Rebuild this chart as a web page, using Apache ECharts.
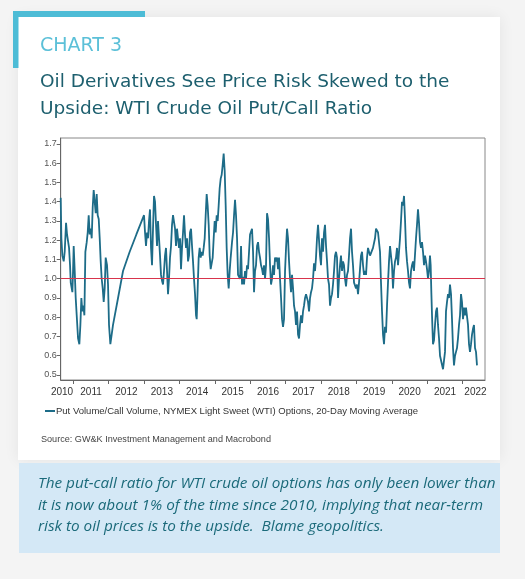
<!DOCTYPE html>
<html><head><meta charset="utf-8">
<script src="https://cdn.jsdelivr.net/npm/echarts@6/dist/echarts.min.js"></script>
<style>html,body{margin:0;padding:0;background:#f4f4f4}#c{width:525px;height:579px}</style>
</head><body><div id="c"></div><script>
const seriesName = 'Put Volume/Call Volume, NYMEX Light Sweet (WTI) Options, 20-Day Moving Average';
const refLevel = 1.0;
const yTicks = [0.5,0.6,0.7,0.8,0.9,1.0,1.1,1.2,1.3,1.4,1.5,1.6,1.7];
const yearTicks = [2011,2012,2013,2014,2015,2016,2017,2018,2019,2020,2021,2022];
const yearLabels = ['2010','2011','2012','2013','2014','2015','2016','2017','2018','2019','2020','2021','2022'];
const yearLabelPos = [2010.68,2011.5,2012.5,2013.5,2014.5,2015.5,2016.5,2017.5,2018.5,2019.5,2020.5,2021.5,2022.36];
const dates = [
2010.643,2010.662,2010.690,2010.728,2010.756,2010.794,2010.822,2010.850,2010.879,2010.907,2010.926,2010.954,2010.973,2010.992,
2011.010,2011.039,2011.067,2011.095,2011.133,2011.170,2011.199,2011.227,2011.255,2011.284,2011.312,2011.340,2011.378,2011.406,
2011.434,2011.462,2011.491,2011.519,2011.547,2011.575,2011.604,2011.632,2011.660,2011.688,2011.717,2011.745,2011.773,2011.801,
2011.830,2011.858,2011.886,2011.914,2011.952,2011.980,2012.008,2012.046,2012.121,2012.263,2012.404,2012.592,2012.781,2012.997,
2013.025,2013.053,2013.082,2013.110,2013.138,2013.166,2013.195,2013.223,2013.251,2013.279,2013.308,2013.336,2013.364,2013.392,
2013.421,2013.449,2013.477,2013.505,2013.534,2013.562,2013.590,2013.618,2013.647,2013.675,2013.703,2013.731,2013.760,2013.788,
2013.816,2013.844,2013.873,2013.901,2013.929,2013.957,2013.986,2014.014,2014.042,2014.070,2014.099,2014.127,2014.155,2014.183,
2014.212,2014.240,2014.268,2014.296,2014.325,2014.353,2014.381,2014.409,2014.438,2014.466,2014.485,2014.513,2014.541,2014.569,
2014.598,2014.626,2014.654,2014.682,2014.711,2014.739,2014.767,2014.795,2014.824,2014.852,2014.880,2014.908,2014.937,2014.965,
2014.993,2015.021,2015.050,2015.078,2015.106,2015.134,2015.163,2015.191,2015.219,2015.247,2015.276,2015.304,2015.332,2015.360,
2015.389,2015.417,2015.445,2015.483,
2015.512,2015.540,2015.568,2015.596,2015.625,2015.653,2015.681,2015.709,2015.738,2015.766,2015.794,2015.822,2015.851,2015.879,
2015.907,2015.935,2015.964,2015.992,2016.020,2016.048,2016.077,2016.105,2016.133,2016.161,2016.190,2016.218,2016.246,2016.274,
2016.303,2016.331,2016.359,2016.387,2016.416,2016.444,2016.472,2016.500,2016.529,2016.557,2016.585,2016.613,2016.642,2016.670,
2016.698,2016.726,2016.755,2016.783,2016.811,2016.839,2016.868,2016.896,2016.924,2016.952,2016.981,2017.009,2017.037,2017.065,
2017.094,2017.122,2017.150,2017.178,2017.207,2017.235,2017.263,2017.291,2017.320,2017.348,2017.376,2017.404,2017.433,2017.461,
2017.489,2017.517,2017.546,2017.574,2017.602,2017.630,2017.659,2017.687,2017.715,2017.743,2017.772,2017.800,2017.828,2017.856,
2017.884,2017.913,
2017.941,2017.969,2017.997,2018.026,2018.054,2018.082,2018.110,2018.139,2018.167,2018.195,2018.223,2018.252,2018.280,2018.308,
2018.336,2018.365,2018.393,2018.421,2018.449,2018.478,2018.506,2018.534,2018.562,2018.591,2018.619,2018.647,2018.675,2018.704,
2018.732,2018.760,2018.788,2018.817,2018.845,2018.873,2018.901,2018.930,2018.958,2018.986,2019.014,2019.043,2019.071,2019.099,
2019.127,2019.156,2019.184,2019.212,2019.240,2019.269,2019.297,2019.325,2019.353,2019.382,2019.410,2019.438,2019.466,2019.495,
2019.523,2019.551,2019.579,2019.608,2019.636,2019.664,2019.692,2019.721,2019.749,2019.777,2019.805,2019.834,2019.862,2019.890,
2019.918,2019.947,2019.975,2020.003,2020.031,2020.060,2020.088,2020.116,2020.144,2020.173,2020.201,2020.229,2020.257,2020.285,
2020.314,2020.342,
2020.370,2020.398,2020.427,2020.455,2020.483,2020.511,2020.540,2020.568,2020.596,2020.624,2020.653,2020.681,2020.709,2020.737,
2020.766,2020.794,2020.822,2020.850,2020.879,2020.907,2020.935,2020.963,2020.992,2021.020,2021.048,2021.076,2021.095,2021.114,
2021.133,2021.161,2021.189,2021.218,2021.246,2021.274,2021.302,2021.331,2021.359,2021.387,2021.415,2021.444,2021.472,2021.500,
2021.528,2021.557,2021.585,2021.613,2021.641,2021.670,2021.698,2021.726,2021.754,2021.783,2021.811,2021.839,2021.867,2021.896,
2021.924,2021.952,2021.980,2022.009,2022.037,2022.065,2022.093,2022.122,2022.150,2022.178,2022.206,2022.235,2022.263,2022.291,
2022.319,2022.348,2022.376,2022.404
];
const ratios = [
1.42,1.21,1.12,1.09,1.14,1.29,1.23,1.24,1.16,1.07,0.98,0.97,0.93,1.04,
1.17,1.04,0.90,0.81,0.69,0.66,0.76,0.90,0.83,0.86,0.81,1.14,1.19,1.24,
1.33,1.23,1.26,1.21,1.37,1.46,1.47,1.34,1.44,1.33,1.31,1.21,1.09,1.00,
0.95,0.88,0.95,1.11,1.07,0.97,0.76,0.66,0.76,0.90,1.04,1.14,1.23,1.33,
1.24,1.17,1.24,1.21,1.30,1.36,1.16,1.07,1.26,1.43,1.40,1.28,1.17,1.30,
1.21,1.12,1.02,0.99,0.97,1.04,1.12,1.16,1.04,0.92,1.00,1.11,1.17,1.28,
1.33,1.34,1.26,1.17,1.26,1.21,1.16,1.21,1.05,1.16,1.24,1.33,1.23,1.16,
1.21,1.09,1.12,1.24,1.26,1.17,1.09,1.00,0.92,0.81,0.79,0.95,1.11,1.16,
1.11,1.14,1.12,1.16,1.21,1.33,1.44,1.38,1.28,1.12,1.05,1.04,1.11,1.21,
1.30,1.24,1.33,1.30,1.38,1.47,1.52,1.54,1.59,1.65,1.56,1.38,1.16,1.02,
0.95,1.04,1.11,1.19,
1.24,1.33,1.41,1.33,1.21,1.02,1.03,1.00,1.17,0.97,1.01,0.97,1.04,1.00,
1.07,1.05,1.14,1.23,1.23,1.26,1.14,0.93,1.04,1.07,1.17,1.19,1.14,1.11,
1.07,1.05,1.02,1.07,1.00,1.07,1.34,1.31,1.21,1.07,0.97,1.00,1.07,1.02,
1.11,1.09,1.11,1.05,1.11,1.00,0.90,0.79,0.75,0.79,1.04,1.16,1.26,1.21,
1.09,1.00,0.93,1.02,0.95,0.86,0.83,0.76,0.83,0.71,0.69,0.76,0.81,0.77,
0.83,0.86,0.90,0.92,0.93,0.88,0.83,0.90,0.93,0.95,1.00,1.08,1.04,1.11,
1.21,1.28,
1.27,1.12,1.07,1.21,1.14,1.24,1.28,1.17,1.09,1.00,0.97,0.86,0.90,0.92,
0.97,1.04,1.12,1.14,1.11,0.90,1.00,1.07,1.12,1.04,1.09,1.07,1.00,0.96,
1.02,1.04,1.12,1.21,1.26,1.14,1.07,0.98,0.97,0.95,0.97,0.92,0.98,1.05,
1.12,1.14,1.07,1.02,1.04,1.02,1.11,1.16,1.17,1.12,1.13,1.11,1.16,1.17,
1.21,1.26,1.27,1.24,1.23,1.14,0.98,0.83,0.71,0.66,0.75,0.72,0.86,0.98,
1.09,1.17,1.18,1.07,0.95,1.04,1.09,1.11,1.16,1.07,1.14,1.21,1.30,1.40,
1.38,1.43,
1.31,1.16,1.09,1.04,0.98,0.95,1.04,1.07,1.09,1.04,1.05,1.21,1.28,1.36,
1.29,1.19,1.16,1.19,1.14,1.07,1.12,1.09,1.05,1.00,1.04,1.12,1.07,0.93,
0.81,0.66,0.68,0.76,0.83,0.85,0.76,0.69,0.60,0.59,0.60,0.53,0.52,0.62,
0.83,0.88,0.92,0.90,0.97,0.92,0.79,0.64,0.55,0.60,0.62,0.64,0.69,0.76,
0.81,0.92,0.88,0.79,0.85,0.81,0.85,0.86,0.76,0.66,0.62,0.66,0.71,0.74,
0.76,0.64,0.62,0.55
];

const chart = echarts.init(document.getElementById('c'), null, {renderer: 'canvas'});
const chartFont = '"Liberation Sans", Arial, sans-serif';
const headFont = '"DejaVu Sans", sans-serif';
const bodyFont = '"Open Sans", "Noto Sans", sans-serif';
chart.setOption({
  backgroundColor: '#f4f4f4',
  animation: false,
  graphic: [
    {type: 'rect', z: -20, shape: {x: 18, y: 17, width: 482, height: 443},
     style: {fill: '#ffffff', shadowBlur: 14, shadowColor: 'rgba(0,0,0,0.07)'}},
    {type: 'rect', z: -10, shape: {x: 13, y: 11, width: 132, height: 6}, style: {fill: '#4dbcd6'}},
    {type: 'rect', z: -10, shape: {x: 13, y: 11, width: 5.5, height: 57}, style: {fill: '#4dbcd6'}},
    {type: 'text', left: 40, top: 37, style: {text: 'CHART 3', fill: '#5cc0d8', font: '19px ' + headFont}},
    {type: 'text', left: 40, top: 73, style: {text: 'Oil Derivatives See Price Risk Skewed to the', fill: '#1d5f6e', font: '18.5px ' + headFont}},
    {type: 'text', left: 40, top: 100, style: {text: 'Upside: WTI Crude Oil Put/Call Ratio', fill: '#1d5f6e', font: '18.5px ' + headFont}},
    {type: 'text', left: 41, top: 435, style: {text: 'Source: GW&K Investment Management and Macrobond', fill: '#444', font: '9.1px ' + chartFont}},
    {type: 'rect', z: -10, shape: {x: 19, y: 463, width: 481, height: 90}, style: {fill: '#d4e8f6'}},
    {type: 'text', left: 38, top: 473, style: {
      text: 'The put-call ratio for WTI crude oil options has only been lower than\nit is now about 1% of the time since 2010, implying that near-term\nrisk to oil prices is to the upside.  Blame geopolitics.',
      fill: '#1b6a7a', font: 'italic 15.3px ' + bodyFont, lineHeight: 21.5}}
  ],
  legend: {
    left: 40, top: 401, itemWidth: 10, itemHeight: 2, itemGap: 4, icon: 'rect',
    textStyle: {fontFamily: chartFont, fontSize: 9.5, color: '#333', padding: [0,0,0,-4]},
    data: [seriesName]
  },
  grid: {left: 60.7, right: 40, top: 138, bottom: 199, show: true, borderColor: '#888', borderWidth: 1, backgroundColor: '#fff'},
  xAxis: {
    type: 'value', min: 2010.643, max: 2022.63,
    splitLine: {show: false},
    axisLine: {show: true, lineStyle: {color: '#666'}},
    axisTick: {show: true, length: 4, lineStyle: {color: '#666'}, customValues: yearTicks},
    axisLabel: {customValues: yearLabelPos, margin: 7, fontFamily: chartFont, fontSize: 10, color: '#333',
      formatter: v => { const i = yearLabelPos.indexOf(v); return i >= 0 ? yearLabels[i] : ''; }}
  },
  yAxis: {
    type: 'value', min: 0.474, max: 1.731,
    splitLine: {show: false},
    axisLine: {show: true, lineStyle: {color: '#666'}},
    axisTick: {show: true, length: 4, lineStyle: {color: '#666'}, customValues: yTicks},
    axisLabel: {customValues: yTicks, margin: 4, fontFamily: chartFont, fontSize: 9, color: '#555',
      formatter: v => v.toFixed(1)}
  },
  series: [{
    name: seriesName, type: 'line', showSymbol: false, symbol: 'none',
    lineStyle: {color: '#1d6c88', width: 1.8}, itemStyle: {color: '#1d6c88'},
    data: dates.map((d, i) => [d, ratios[i]]),
    markLine: {silent: true, symbol: 'none', label: {show: false},
      lineStyle: {color: '#d8344c', width: 1.2, type: 'solid'},
      data: [{yAxis: refLevel}]},
    z: 3
  }]
});
</script></body></html>
